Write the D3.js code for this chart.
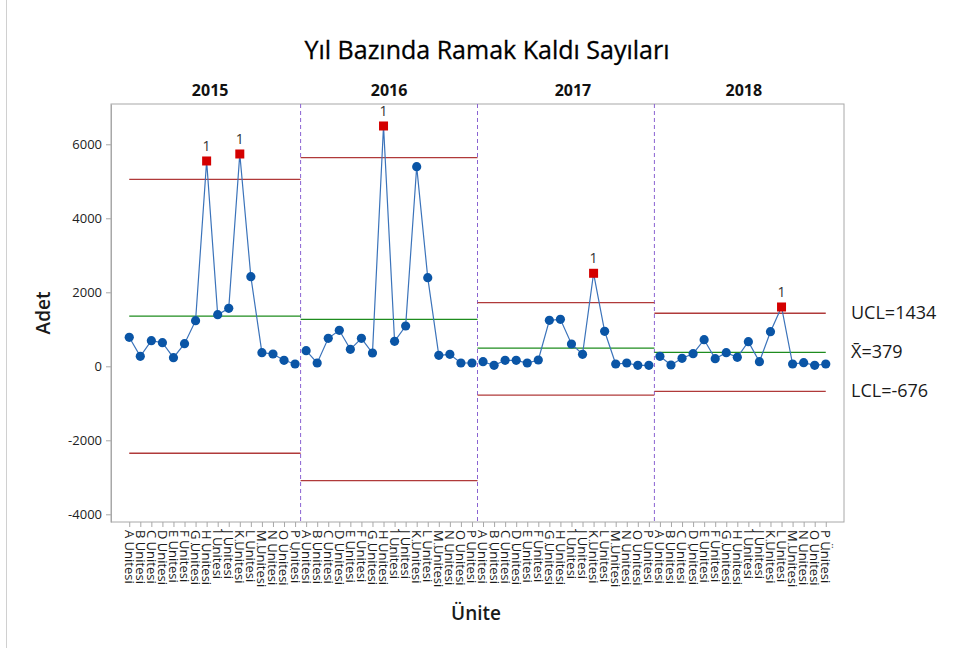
<!DOCTYPE html>
<html>
<head>
<meta charset="utf-8">
<script src="https://cdn.jsdelivr.net/npm/d3@7"></script>
<style>
  body { margin: 0; background: #fff; }
  text { font-family: "Open Sans", "Noto Sans", sans-serif; }
</style>
</head>
<body>
<svg id="chart" width="960" height="648"></svg>
<script>
// stages and units
var years = ["2015", "2016", "2017", "2018"];
var units = ["A", "B", "C", "D", "E", "F", "G", "H", "I", "J", "K", "L", "M", "N", "O", "P"];

// near-miss counts per unit
var v2015 = [784, 270, 692, 638, 232, 611, 1232, 5549, 1395, 1567, 5738, 2422, 368, 332, 162, 62];
var v2016 = [422, 89, 757, 973, 459, 757, 359, 6495, 676, 1089, 5395, 2395, 297, 324, 89, 89];
var v2017 = [124, 27, 162, 162, 89, 170, 1243, 1270, 603, 324, 2514, 946, 62, 89, 27, 27];
var v2018 = [270, 35, 216, 341, 719, 205, 368, 243, 665, 124, 935, 1603, 62, 97, 27, 62];

// control limits per stage
var ucl  = [5050, 5640, 1720, 1434];
var mean = [1355, 1270, 490, 379];
var lcl  = [-2350, -3090, -780, -676];

var yTicks = [-4000, -2000, 0, 2000, 4000, 6000];

var series = [v2015, v2016, v2017, v2018];
var n = units.length;

var svg = d3.select("#chart");

var x = d3.scaleLinear().domain([-1.65, 64.65]).range([111, 844]);
var y = d3.scaleLinear().domain([-4208, 7089]).range([522, 104]);

// thin border at the very left of the picture
svg.append("line")
  .attr("x1", 6.5).attr("x2", 6.5).attr("y1", 0).attr("y2", 648)
  .attr("stroke", "#d0d0d0");

// title
svg.append("text")
  .attr("x", 487).attr("y", 59)
  .attr("text-anchor", "middle")
  .style("font-size", "25px")
  .style("fill", "#000")
  .style("stroke", "#000")
  .style("stroke-width", 0.3)
  .text("Yıl Bazında Ramak Kaldı Sayıları");

// frame
svg.append("rect")
  .attr("x", 111).attr("y", 104)
  .attr("width", 733).attr("height", 418)
  .attr("fill", "none")
  .attr("stroke", "#a8a8a8");

// y axis
var yAxis = svg.append("g")
  .attr("transform", "translate(111,0)")
  .call(d3.axisLeft(y).tickValues(yTicks).tickSizeInner(5).tickSizeOuter(0).tickPadding(4)
    .tickFormat(function(d) { return String(d); }));
yAxis.select(".domain").attr("stroke", "#a8a8a8");
yAxis.selectAll(".tick line").attr("stroke", "#a8a8a8");
yAxis.selectAll(".tick text")
  .style("font-size", "13px")
  .style("fill", "#222")
  .style("font-family", "'Open Sans', sans-serif");

// x axis: one tick per unit per stage
var allIdx = d3.range(years.length * n);
var xAxis = svg.append("g")
  .attr("transform", "translate(0,522)")
  .call(d3.axisBottom(x).tickValues(allIdx).tickSize(5).tickFormat(""));
xAxis.select(".domain").remove();
xAxis.selectAll(".tick line").attr("stroke", "#a8a8a8");

svg.append("g").selectAll("text")
  .data(allIdx)
  .enter().append("text")
  .attr("transform", function(d) { return "translate(" + x(d) + ",530) rotate(90)"; })
  .attr("dy", "0.35em")
  .style("font-size", "13px")
  .style("fill", "#1a1a1a")
  .text(function(d) { return units[d % n] + " Ünitesi"; });

// axis titles
svg.append("text")
  .attr("transform", "translate(50,313) rotate(-90)")
  .attr("text-anchor", "middle")
  .style("font-size", "19px")
  .style("font-weight", 600)
  .style("fill", "#1a1a1a")
  .text("Adet");

svg.append("text")
  .attr("x", 476).attr("y", 620)
  .attr("text-anchor", "middle")
  .style("font-size", "19px")
  .style("font-weight", 600)
  .style("fill", "#1a1a1a")
  .text("Ünite");

// stage dividers
svg.append("g").selectAll("line")
  .data(d3.range(1, years.length))
  .enter().append("line")
  .attr("x1", function(s) { return x(s * n - 0.5); })
  .attr("x2", function(s) { return x(s * n - 0.5); })
  .attr("y1", 104).attr("y2", 522)
  .attr("stroke", "#8a63d2")
  .attr("stroke-dasharray", "4,3");

// stage year labels
var labelShift = [-2, 0, 7, 1];
svg.append("g").selectAll("text")
  .data(years)
  .enter().append("text")
  .attr("x", function(d, s) { return x(s * n + (n - 1) / 2) + labelShift[s]; })
  .attr("y", 96)
  .attr("text-anchor", "middle")
  .style("font-size", "16px")
  .style("font-weight", 700)
  .style("fill", "#111")
  .text(function(d) { return d; });

// control limit lines
function stageStart(s) { return s === 0 ? 0 : s * n - 0.5; }
function stageEnd(s) { return s === years.length - 1 ? s * n + n - 1 : s * n + n - 0.5; }

var limits = [
  { vals: ucl, color: "#b03a3a" },
  { vals: lcl, color: "#b03a3a" },
  { vals: mean, color: "#1e8c1e" }
];
limits.forEach(function(l) {
  svg.append("g").selectAll("line")
    .data(l.vals)
    .enter().append("line")
    .attr("x1", function(d, s) { return x(stageStart(s)); })
    .attr("x2", function(d, s) { return x(stageEnd(s)); })
    .attr("y1", function(d) { return y(d); })
    .attr("y2", function(d) { return y(d); })
    .attr("stroke", l.color)
    .attr("stroke-width", 1.3);
});

// data lines and points
var line = d3.line()
  .x(function(d) { return x(d.i); })
  .y(function(d) { return y(d.v); });

series.forEach(function(vals, s) {
  var pts = vals.map(function(v, k) { return { i: s * n + k, v: v, out: v > ucl[s] || v < lcl[s] }; });
  var g = svg.append("g");

  g.append("path")
    .datum(pts)
    .attr("d", line)
    .attr("fill", "none")
    .attr("stroke", "#3b73ba")
    .attr("stroke-width", 1.2);

  g.selectAll("circle")
    .data(pts.filter(function(p) { return !p.out; }))
    .enter().append("circle")
    .attr("cx", function(p) { return x(p.i); })
    .attr("cy", function(p) { return y(p.v); })
    .attr("r", 4.6)
    .attr("fill", "#0a55a6");

  var outs = pts.filter(function(p) { return p.out; });
  g.selectAll("rect")
    .data(outs)
    .enter().append("rect")
    .attr("x", function(p) { return x(p.i) - 4.5; })
    .attr("y", function(p) { return y(p.v) - 4.5; })
    .attr("width", 9).attr("height", 9)
    .attr("fill", "#d40000");

  g.selectAll("text")
    .data(outs)
    .enter().append("text")
    .attr("x", function(p) { return x(p.i); })
    .attr("y", function(p) { return y(p.v) - 10; })
    .attr("text-anchor", "middle")
    .style("font-size", "14px")
    .style("fill", "#333")
    .text("1");
});

// limit labels for the last stage
var last = years.length - 1;
var rightLabels = [
  { v: ucl[last], t: "UCL=" + ucl[last] },
  { v: mean[last], t: "X\u0304=" + mean[last] },
  { v: lcl[last], t: "LCL=" + lcl[last] }
];
svg.append("g").selectAll("text")
  .data(rightLabels)
  .enter().append("text")
  .attr("x", 851)
  .attr("y", function(d) { return y(d.v) + 6; })
  .style("font-size", "18px")
  .style("fill", "#1a1a1a")
  .text(function(d) { return d.t; });
</script>
</body>
</html>
